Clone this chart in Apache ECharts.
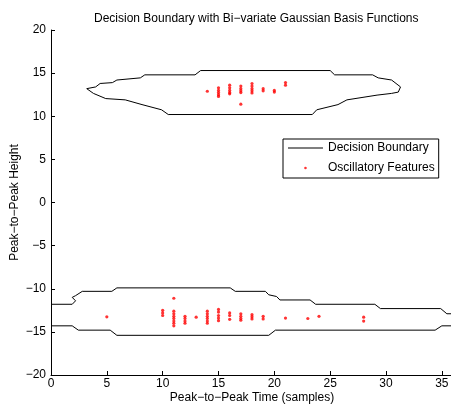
<!DOCTYPE html>
<html>
<head>
<meta charset="utf-8">
<script src="https://cdn.jsdelivr.net/npm/echarts@6/dist/echarts.min.js"></script>
<style>
html,body{margin:0;padding:0;background:#fff;}
#chart{width:451px;height:408px;}
</style>
</head>
<body>
<div id="chart"></div>
<script>
// Decision boundary: closed contour around the upper cluster
const upperContour = [[3.2,13.2],[4.0,13.4],[4.4,13.8],[5.5,13.9],[5.9,14.2],[8.0,14.45],[8.4,14.8],[12.9,14.8],[13.4,15.3],[25.0,15.3],[25.4,14.8],[28.8,14.8],[29.3,14.45],[30.5,14.2],[31.3,13.4],[31.1,12.8],[30.5,12.65],[29.2,12.45],[26.5,11.9],[25.7,11.35],[23.8,10.75],[23.4,10.2],[10.5,10.2],[9.9,10.75],[8.15,11.35],[6.65,11.9],[4.9,12.05],[3.8,12.65],[3.2,13.2]];
// Decision boundary: open band around the lower cluster (top and bottom edges)
const lowerContourTop = [[0,-11.8],[1.9,-11.8],[2.2,-11.4],[1.9,-11.0],[2.2,-10.8],[2.8,-10.3],[5.45,-10.3],[5.9,-9.9],[16.05,-9.9],[16.5,-10.3],[19.2,-10.3],[19.5,-10.7],[20.2,-10.9],[20.5,-11.3],[23.2,-11.3],[23.7,-11.8],[29.0,-11.8],[29.5,-12.3],[34.9,-12.3],[35.45,-12.9],[36,-12.9]];
const lowerContourBottom = [[0,-14.3],[1.9,-14.3],[2.45,-14.8],[5.3,-14.8],[5.9,-15.4],[19.5,-15.4],[20.1,-14.8],[34.4,-14.8],[35.0,-14.3],[36,-14.3]];
// Oscillatory features
const featureX = [14,15,15,15,15,15,16,16,16,16,16,17,17,17,17,17,18,18,18,18,18,19,19,20,20,21,21,
  5,10,10,10,11,11,11,11,11,11,11,11,12,12,12,12,13,14,14,14,14,14,14,15,15,15,15,15,16,16,16,17,17,17,17,18,18,18,19,19,21,23,24,28,28];
const featureY = [12.9,13.3,13.0,12.75,12.5,12.3,13.6,13.3,13.0,12.75,12.6,13.5,13.2,12.95,12.75,11.4,13.8,13.5,13.2,12.95,12.7,13.2,12.95,13.0,12.8,13.9,13.6,
  -13.25,-12.5,-12.8,-13.1,-11.1,-12.6,-12.9,-13.2,-13.45,-13.75,-14.0,-14.3,-13.2,-13.45,-13.75,-14.0,-13.3,-12.6,-12.9,-13.2,-13.45,-13.75,-14.0,-12.4,-12.7,-13.1,-13.4,-13.7,-12.8,-13.1,-13.55,-12.9,-13.2,-13.45,-13.65,-13.0,-13.25,-13.5,-13.2,-13.5,-13.4,-13.45,-13.2,-13.3,-13.75];
const xTicks = {min:0, max:36, interval:5};
const yTicks = {min:-20, max:20, interval:5};

const features = featureX.map((x,i)=>[x,featureY[i]]);
const FONT = '"Liberation Sans", Arial, Helvetica, sans-serif';
const minus = v => String(v).replace('-', '\u2212');
const lineStyle = {color:'#000', width:1};

const chart = echarts.init(document.getElementById('chart'), null, {renderer:'canvas'});
chart.setOption({
  animation:false,
  backgroundColor:'#fff',
  title:{
    text:'Decision Boundary with Bi\u2212variate Gaussian Basis Functions',
    left:89, top:8,
    textStyle:{fontFamily:FONT, fontSize:12, fontWeight:'normal', color:'#000'}
  },
  grid:{left:51, right:-2, top:30, bottom:33, containLabel:false, outerBoundsMode:'none'},
  legend:{
    orient:'vertical', left:283, top:139,
    padding:[3,4,4,5],
    itemWidth:35, itemHeight:12, itemGap:8,
    borderColor:'#000', borderWidth:1, borderRadius:0,
    backgroundColor:'#fff',
    textStyle:{fontFamily:FONT, fontSize:12, color:'#000', padding:[0,0,0,0]},
    data:[
      {name:'Decision Boundary', icon:'path://M0,5.5H35V6.5H0Z M0,0H0.01V0.01H0Z M35,12H35.01V12.01H35Z'},
      {name:'Oscillatory Features', icon:'path://M16.2,6A1.3,1.3 0 1,0 18.8,6A1.3,1.3 0 1,0 16.2,6Z M0,0H0.01V0.01H0Z M35,12H35.01V12.01H35Z'}
    ]
  },
  xAxis:{
    type:'value', min:xTicks.min, max:xTicks.max, interval:xTicks.interval,
    name:'Peak\u2212to\u2212Peak Time (samples)', nameLocation:'middle', nameGap:17, nameMoveOverlap:false,
    nameTextStyle:{fontFamily:FONT, fontSize:12, color:'#000'},
    axisLine:{show:true, onZero:false, lineStyle:{color:'#000', width:1}},
    axisTick:{show:true, inside:true, length:4, lineStyle:{color:'#000'}},
    axisLabel:{fontFamily:FONT, fontSize:12, color:'#000', margin:3, showMaxLabel:false, formatter:minus},
    splitLine:{show:false}
  },
  yAxis:{
    type:'value', min:yTicks.min, max:yTicks.max, interval:yTicks.interval,
    name:'Peak\u2212to\u2212Peak Height', nameLocation:'middle', nameGap:30, nameMoveOverlap:false,
    nameTextStyle:{fontFamily:FONT, fontSize:12, color:'#000'},
    axisLine:{show:true, onZero:false, lineStyle:{color:'#000', width:1}},
    axisTick:{show:true, inside:true, length:4, lineStyle:{color:'#000'}},
    axisLabel:{fontFamily:FONT, fontSize:12, color:'#000', margin:5, formatter:minus},
    splitLine:{show:false}
  },
  series:[
    {name:'Decision Boundary', type:'line', data:upperContour, showSymbol:false, symbol:'none', lineStyle:lineStyle, itemStyle:{color:'#000'}, z:2},
    {name:'Decision Boundary', type:'line', data:lowerContourTop, showSymbol:false, symbol:'none', lineStyle:lineStyle, itemStyle:{color:'#000'}, z:2},
    {name:'Decision Boundary', type:'line', data:lowerContourBottom, showSymbol:false, symbol:'none', lineStyle:lineStyle, itemStyle:{color:'#000'}, z:2},
    {name:'Oscillatory Features', type:'scatter', data:features, symbol:'circle', symbolSize:3.2, itemStyle:{color:'#ff0000'}, z:3}
  ]
});
</script>
</body>
</html>
